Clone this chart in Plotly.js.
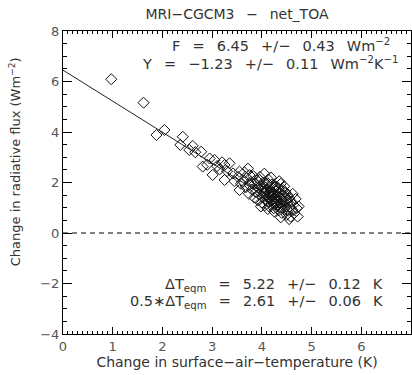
<!DOCTYPE html>
<html>
<head>
<meta charset="utf-8">
<script src="https://cdn.plot.ly/plotly-3.0.1.min.js"></script>
<style>html,body{margin:0;padding:0;background:#fff;}#chart{width:412px;height:375px;}</style>
</head>
<body>
<div id="chart"></div>
<script>
// Annual means: change in surface-air-temperature (K) vs change in net TOA flux (Wm-2)
const tempChange = [
  0.97, 1.62, 1.88, 2.04, 2.36, 2.41, 2.54, 2.61, 2.66, 2.78,
  2.81, 2.90, 2.95, 3.01, 3.05, 3.10, 3.15, 3.20, 3.25, 3.25,
  3.30, 3.35, 3.42, 3.45, 3.52, 3.55, 3.55, 3.58, 3.62, 3.65,
  3.68, 3.70, 3.72, 3.74, 3.75, 3.75, 3.78, 3.80, 3.83, 3.85,
  3.86, 3.88, 3.90, 3.92, 3.93, 3.95, 3.95, 3.96, 3.98, 3.98,
  4.00, 4.01, 4.02, 4.03, 4.05, 4.05, 4.06, 4.07, 4.08, 4.09,
  4.10, 4.11, 4.12, 4.12, 4.12, 4.13, 4.14, 4.15, 4.15, 4.16,
  4.17, 4.18, 4.18, 4.19, 4.20, 4.20, 4.21, 4.22, 4.23, 4.24,
  4.25, 4.25, 4.26, 4.27, 4.28, 4.28, 4.29, 4.30, 4.31, 4.32,
  4.33, 4.34, 4.35, 4.35, 4.36, 4.37, 4.38, 4.38, 4.39, 4.40,
  4.41, 4.42, 4.43, 4.44, 4.45, 4.45, 4.46, 4.47, 4.48, 4.48,
  4.49, 4.50, 4.51, 4.52, 4.53, 4.55, 4.55, 4.56, 4.58, 4.59,
  4.61, 4.62, 4.63, 4.65, 4.68, 4.70, 4.72, 4.74, 4.05, 4.18,
  4.22, 4.30, 4.14, 4.26, 4.36, 4.08, 4.20, 4.33, 4.02, 4.40
];
const fluxChange = [
  6.09, 5.16, 3.88, 4.08, 3.49, 3.81, 3.29, 3.45, 3.20, 3.22,
  2.63, 2.70, 2.95, 2.30, 2.89, 2.65, 2.52, 2.80, 2.69, 2.10,
  2.45, 2.76, 2.36, 2.05, 2.22, 2.43, 1.70, 1.95, 2.05, 2.40,
  1.82, 2.18, 2.55, 1.55, 2.30, 1.90, 2.02, 1.72, 2.25, 1.40,
  1.95, 1.62, 2.08, 1.30, 1.78, 2.10, 1.52, 2.22, 1.88, 1.05,
  1.20, 1.65, 1.42, 2.00, 1.55, 2.35, 1.10, 1.80, 1.35, 1.95,
  1.48, 1.68, 1.25, 1.97, 0.95, 2.12, 1.58, 1.05, 1.82, 1.38,
  1.70, 1.50, 2.20, 1.15, 1.92, 1.62, 1.30, 1.45, 1.75, 0.98,
  1.55, 0.85, 1.22, 1.85, 1.40, 1.83, 1.65, 1.08, 1.50, 1.30,
  1.78, 0.90, 1.42, 2.05, 1.60, 1.18, 1.95, 0.62, 1.35, 0.80,
  1.52, 1.10, 1.70, 1.25, 0.95, 1.85, 1.45, 1.62, 1.05, 1.57,
  1.32, 0.72, 1.20, 1.50, 0.88, 1.38, 0.55, 1.05, 0.65, 1.25,
  0.92, 1.55, 1.12, 0.78, 1.35, 0.98, 0.65, 1.05, 1.62, 1.28,
  1.58, 1.22, 1.40, 1.12, 1.02, 1.70, 1.45, 1.60, 1.75, 1.15
];
// Regression line: F (intercept) and slope lambda
const fitX = [0.0, 4.70];
const fitY = [6.45, 0.67];
const xRange = [0, 7];
const yRange = [-4, 8];
const xTicks = [0, 1, 2, 3, 4, 5, 6, 7];
const yTicks = [-4, -2, 0, 2, 4, 6, 8];
const G = "\u00a0\u00a0\u2009"; // wide gap between tokens
const chartTitle = "MRI\u2212CGCM3" + G + "\u2212" + G + "net_TOA";
const statF = "F" + G + "=" + G + "6.45" + G + "+/\u2212" + G + "0.43" + G + "Wm<sup>\u22122</sup>";
const statY = "Y" + G + "=" + G + "\u22121.23" + G + "+/\u2212" + G + "0.11" + G + "Wm<sup>\u22122</sup>K<sup>\u22121</sup>";
const statT = "\u0394T<sub>eqm</sub>" + G + "=" + G + "5.22" + G + "+/\u2212" + G + "0.12" + G + "K";
const statH = "0.5\u2217\u0394T<sub>eqm</sub>" + G + "=" + G + "2.61" + G + "+/\u2212" + G + "0.06" + G + "K";

const FONT = "DejaVu Sans, Liberation Sans, sans-serif";
const TXT = "#333";

const traces = [
  {
    x: tempChange, y: fluxChange, type: "scatter", mode: "markers",
    marker: {symbol: "diamond-open", size: 8.5, color: "#111", line: {width: 1, color: "#111"}},
    hoverinfo: "none"
  },
  { // fit line drawn on the twin axes (same ranges) so the top/right tick axes exist
    x: fitX, y: fitY, xaxis: "x2", yaxis: "y2", type: "scatter", mode: "lines",
    line: {color: "#222", width: 1}, hoverinfo: "none"
  }
];

const baseAxis = {
  showline: true, linecolor: "#000", linewidth: 1,
  ticks: "inside", tickcolor: "#000", tickwidth: 1,
  showgrid: false, zeroline: false,
  tickfont: {family: FONT, size: 13, color: "#555"}
};

const layout = {
  width: 412, height: 375,
  margin: {l: 63, r: 1, t: 31, b: 41, pad: 0},
  paper_bgcolor: "#fff", plot_bgcolor: "#fff",
  showlegend: false,
  title: {text: chartTitle, font: {family: FONT, size: 14, color: TXT},
          xref: "paper", x: 0.5, xanchor: "center", yref: "container", y: 0.963, yanchor: "middle"},
  xaxis: Object.assign({}, baseAxis, {
    range: xRange, tickvals: xTicks, ticklen: 7,
    minor: {dtick: 0.1, ticks: "inside", ticklen: 3, tickcolor: "#000"},
    title: {text: "Change in surface\u2212air\u2212temperature (K)", font: {family: FONT, size: 14, color: TXT}, standoff: 3}
  }),
  yaxis: Object.assign({}, baseAxis, {
    range: yRange, tickvals: yTicks, ticklen: 9,
    minor: {dtick: 0.5, ticks: "inside", ticklen: 4, tickcolor: "#000"}
  }),
  xaxis2: {
    overlaying: "x", side: "top", range: xRange, tickvals: xTicks,
    ticks: "inside", ticklen: 7, tickcolor: "#000", tickwidth: 1,
    showline: true, linecolor: "#000", showgrid: false, zeroline: false, showticklabels: false,
    minor: {dtick: 0.1, ticks: "inside", ticklen: 3, tickcolor: "#000"}
  },
  yaxis2: {
    overlaying: "y", side: "right", range: yRange, tickvals: yTicks,
    ticks: "inside", ticklen: 9, tickcolor: "#000", tickwidth: 1,
    showline: true, linecolor: "#000", showgrid: false, zeroline: false, showticklabels: false,
    minor: {dtick: 0.5, ticks: "inside", ticklen: 4, tickcolor: "#000"}
  },
  shapes: [
    {type: "line", xref: "x", yref: "y", x0: 0, x1: 7, y0: 0, y1: 0,
     line: {color: "#000", width: 1, dash: "5px,4px"}}
  ],
  annotations: [
    {text: statF, xref: "paper", yref: "paper", x: 0.945, y: 0.955, xanchor: "right", yanchor: "middle",
     showarrow: false, font: {family: FONT, size: 14.5, color: TXT}},
    {text: statY, xref: "paper", yref: "paper", x: 0.968, y: 0.893, xanchor: "right", yanchor: "middle",
     showarrow: false, font: {family: FONT, size: 14.5, color: TXT}},
    {text: statT, xref: "paper", yref: "paper", x: 0.925, y: 0.162, xanchor: "right", yanchor: "middle",
     showarrow: false, font: {family: FONT, size: 14.5, color: TXT}},
    {text: statH, xref: "paper", yref: "paper", x: 0.925, y: 0.104, xanchor: "right", yanchor: "middle",
     showarrow: false, font: {family: FONT, size: 14.5, color: TXT}},
    {text: "Change in radiative flux (Wm<sup>\u22122</sup>)", xref: "paper", yref: "paper",
     x: -0.138, y: 0.57, xanchor: "center", yanchor: "middle", textangle: -90,
     showarrow: false, font: {family: FONT, size: 13, color: TXT}}
  ]
};

Plotly.newPlot("chart", traces, layout, {staticPlot: true, displayModeBar: false});
</script>
</body>
</html>
